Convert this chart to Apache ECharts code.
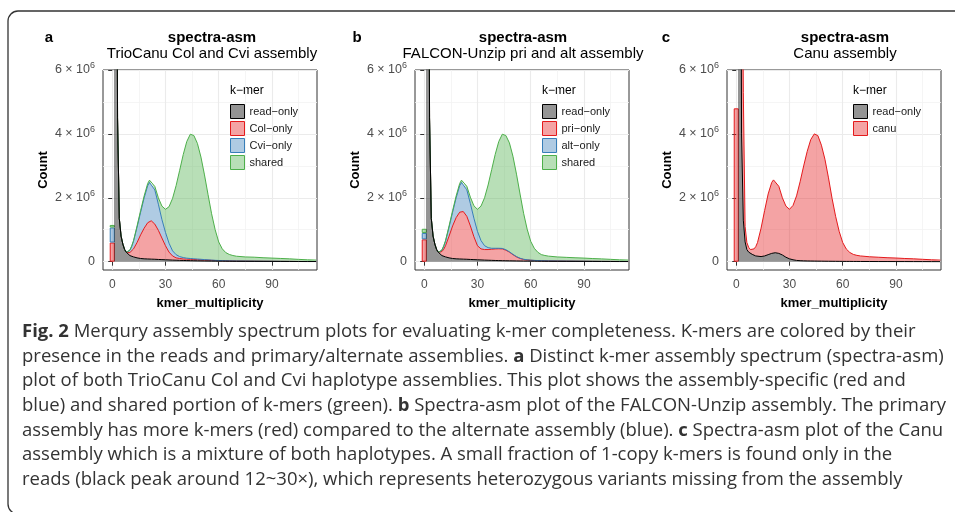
<!DOCTYPE html>
<html><head><meta charset="utf-8">
<script src="https://cdn.jsdelivr.net/npm/echarts@6/dist/echarts.min.js"></script>
<style>html,body{margin:0;padding:0;background:#fff}#c{width:955px;height:512px}</style>
</head><body><div id="c"></div>
<script>
// ---- data (counts in units of 10^6) ----
const X = [1,2,3,4,5,6,7,8,9,10,11,12,14,16,18,20,21,22,24,26,28,30,32,34,36,38,40,42,44,46,48,50,52,54,56,58,60,62,64,66,68,70,75,80,85,90,95,100,105,110,115];

const namesA = ['read−only','Col−only','Cvi−only','shared'];
const readOnlyA = [60,25,4.5,1.35,0.8,0.55,0.38,0.29,0.23,0.19,0.165,0.15,0.12,0.1,0.09,0.085,0.082,0.08,0.076,0.07,0.065,0.06,0.055,0.05,0.046,0.042,0.038,0.035,0.032,0.03,0.028,0.026,0.024,0.022,0.02,0.019,0.018,0.017,0.016,0.015,0.014,0.013,0.012,0.011,0.01,0.009,0.008,0.007,0.006,0.005,0.005];
const colOnlyA = [0,0,0,0,0,0,0,0,0.03,0.1,0.165,0.25,0.48,0.74,0.96,1.135,1.19,1.2,1.1,0.91,0.675,0.44,0.245,0.13,0.074,0.058,0.047,0.045,0.043,0.04,0.037,0.034,0.03,0.026,0.022,0.018,0.015,0.012,0.01,0.008,0.007,0.006,0.005,0.004,0.003,0.003,0.002,0.002,0.001,0.001,0.001];
const cviOnlyA = [0,0,0,0,0,0,0,0,0.02,0.07,0.15,0.24,0.48,0.71,0.95,1.16,1.21,1.22,1.07,0.82,0.58,0.42,0.28,0.16,0.1,0.06,0.045,0.03,0.025,0.02,0.018,0.015,0.012,0.01,0.008,0.006,0.005,0.004,0.003,0.003,0.002,0.002,0.002,0.001,0.001,0.001,0.001,0,0,0,0];
const sharedA = [0,0,0,0,0,0,0,0,0.01,0.01,0.02,0.02,0.04,0.05,0.06,0.07,0.07,0.07,0.11,0.2,0.42,0.72,1.14,1.64,2.16,2.7,3.22,3.65,3.89,3.86,3.62,3.2,2.65,2.04,1.45,0.96,0.58,0.37,0.255,0.2,0.17,0.15,0.13,0.125,0.11,0.1,0.09,0.08,0.066,0.053,0.044];
const zeroBarsA = [0.6,0.47,0.08];

const namesB = ['read−only','pri−only','alt−only','shared'];
const readOnlyB = [60,25,4.5,1.35,0.8,0.55,0.38,0.29,0.23,0.19,0.165,0.15,0.12,0.1,0.09,0.085,0.082,0.08,0.076,0.07,0.065,0.06,0.055,0.05,0.046,0.042,0.038,0.035,0.032,0.03,0.028,0.026,0.024,0.022,0.02,0.019,0.018,0.017,0.016,0.015,0.014,0.013,0.012,0.011,0.01,0.009,0.008,0.007,0.006,0.005,0.005];
const priOnlyB = [0,0,0,0,0,0,0,0,0.04,0.13,0.225,0.35,0.68,1.02,1.29,1.465,1.5,1.49,1.344,1.05,0.715,0.44,0.345,0.33,0.334,0.348,0.362,0.37,0.368,0.33,0.272,0.194,0.126,0.078,0.05,0.036,0.027,0.021,0.017,0.015,0.013,0.011,0.009,0.007,0.006,0.005,0.004,0.003,0.003,0.002,0.002];
const altOnlyB = [0,0,0,0,0,0,0,0,0.01,0.04,0.09,0.14,0.28,0.43,0.62,0.83,0.9,0.93,0.83,0.7,0.58,0.45,0.26,0.12,0.06,0.03,0.02,0.015,0.015,0.015,0.01,0.01,0.01,0.008,0.006,0.005,0.004,0.003,0.003,0.002,0.002,0.002,0.001,0.001,0.001,0.001,0,0,0,0,0];
const sharedB = [0,0,0,0,0,0,0,0,0.01,0.01,0.02,0.02,0.04,0.05,0.06,0.07,0.07,0.07,0.11,0.2,0.39,0.69,1.08,1.5,1.96,2.46,2.94,3.34,3.575,3.575,3.41,3.07,2.58,2.01,1.44,0.96,0.59,0.38,0.26,0.19,0.165,0.148,0.127,0.117,0.106,0.098,0.086,0.078,0.065,0.052,0.044];
const zeroBarsB = [0.7,0.2,0.13];

const namesC = ['read−only','canu'];
const readOnlyC = [60,25,4.0,1.3,0.62,0.38,0.3,0.26,0.23,0.2,0.18,0.17,0.16,0.18,0.22,0.26,0.275,0.28,0.26,0.21,0.14,0.09,0.06,0.04,0.032,0.027,0.024,0.022,0.02,0.018,0.017,0.015,0.014,0.013,0.012,0.011,0.01,0.009,0.009,0.008,0.008,0.007,0.006,0.005,0.005,0.004,0.004,0.003,0.003,0.002,0.002];
const canuC = [30,15,10,4.0,0.48,0.22,0.15,0.12,0.14,0.2,0.29,0.43,0.89,1.42,1.9,2.22,2.285,2.29,2.1,1.79,1.6,1.55,1.7,2.02,2.47,2.97,3.43,3.8,3.98,3.93,3.63,3.19,2.61,1.97,1.41,0.94,0.59,0.39,0.28,0.22,0.19,0.173,0.149,0.135,0.12,0.111,0.096,0.087,0.072,0.058,0.048];
const zeroBarsC = [4.8];

const xMajor = [0,30,60,90];
const xMinor = [15,45,75,105];
const yMajor = [0,2,4,6];
const yMinor = [1,3,5];

const captionLines = [
 '{b|Fig. 2} Merqury assembly spectrum plots for evaluating k-mer completeness. K-mers are colored by their',
 'presence in the reads and primary/alternate assemblies. {b|a} Distinct k-mer assembly spectrum (spectra-asm)',
 'plot of both TrioCanu Col and Cvi haplotype assemblies. This plot shows the assembly-specific (red and',
 'blue) and shared portion of k-mers (green). {b|b} Spectra-asm plot of the FALCON-Unzip assembly. The primary',
 'assembly has more k-mers (red) compared to the alternate assembly (blue). {b|c} Spectra-asm plot of the Canu',
 'assembly which is a mixture of both haplotypes. A small fraction of 1-copy k-mers is found only in the',
 'reads (black peak around 12~30×), which represents heterozygous variants missing from the assembly'
];

// ---- styling ----
const FONT = '"Liberation Sans", Arial, Helvetica, sans-serif';
const CAPFONT = '"Open Sans", "Noto Sans", sans-serif';
const LINE = ['#000000','#E41A1C','#377EB8','#4DAF4A'];
const FILL = ['rgba(0,0,0,0.42)','rgba(228,26,28,0.4)','rgba(55,126,184,0.4)','rgba(77,175,74,0.4)'];
const KEYFILL = ['#949494','#F4A3A4','#AFCBE3','#B8DFB7'];

const panels = [
 {left:103, letter:'a', letterX:49, titleX:212, sub:'TrioCanu Col and Cvi assembly', legendLeft:230, names:namesA, values:[readOnlyA,colOnlyA,cviOnlyA,sharedA], bars:zeroBarsA},
 {left:415, letter:'b', letterX:357, titleX:523, sub:'FALCON-Unzip pri and alt assembly', legendLeft:542, names:namesB, values:[readOnlyB,priOnlyB,altOnlyB,sharedB], bars:zeroBarsB},
 {left:727, letter:'c', letterX:666, titleX:845, sub:'Canu assembly', legendLeft:853, names:namesC, values:[readOnlyC,canuC], bars:zeroBarsC}
];

const grid=[], xAxis=[], yAxis=[], series=[], legend=[], graphic=[];
panels.forEach((p,i)=>{
  grid.push({left:p.left, top:70, width:214, height:200, show:true, borderColor:'#333', borderWidth:1, backgroundColor:'#fff'});
  xAxis.push({type:'value', gridIndex:i, min:-5.2, max:115.4,
    axisLine:{show:false},
    axisTick:{show:true, customValues:xMajor, length:4, lineStyle:{color:'#333', width:1}},
    axisLabel:{customValues:xMajor, color:'#4D4D4D', fontSize:12, fontFamily:FONT, margin:9},
    splitLine:{show:true, lineStyle:{color:'#EBEBEB', width:1.1}},
    name:'kmer_multiplicity', nameLocation:'middle', nameGap:27,
    nameTextStyle:{fontSize:13, fontWeight:'bold', color:'#000', fontFamily:FONT}});
  xAxis.push({type:'value', gridIndex:i, min:-5.2, max:115.4,
    axisLine:{show:false}, axisTick:{show:false, customValues:xMinor}, axisLabel:{show:false},
    splitLine:{show:true, lineStyle:{color:'#F2F2F2', width:0.8}}});
  yAxis.push({type:'value', gridIndex:i, min:-0.26, max:6,
    axisLine:{show:false},
    axisTick:{show:true, customValues:yMajor, length:4, lineStyle:{color:'#333', width:1}},
    axisLabel:{customValues:yMajor, margin:8,
      formatter: v => v === 0 ? '{a|0}' : '{a|' + v + ' × 10}{s|6}',
      rich:{a:{fontSize:12.5, color:'#4D4D4D', fontFamily:FONT, lineHeight:18},
            s:{fontSize:9, color:'#4D4D4D', fontFamily:FONT, lineHeight:8, verticalAlign:'top'}}},
    splitLine:{show:true, lineStyle:{color:'#EBEBEB', width:1.1}},
    name:'Count', nameLocation:'middle', nameGap:53, nameRotate:90,
    nameTextStyle:{fontSize:13, fontWeight:'bold', color:'#000', fontFamily:FONT}});
  yAxis.push({type:'value', gridIndex:i, min:-0.26, max:6,
    axisLine:{show:false}, axisTick:{show:false, customValues:yMinor}, axisLabel:{show:false},
    splitLine:{show:true, lineStyle:{color:'#F2F2F2', width:0.8}}});

  // rows are [count, multiplicity] so the stack is taken on the count dimension
  p.values.forEach((vals,k)=>{
    series.push({type:'line', name:p.names[k], xAxisIndex:2*i, yAxisIndex:2*i, stack:'s'+i,
      symbol:'none', clip:true, z: k===0 ? 4 : 2,
      encode:{x:1, y:0},
      lineStyle:{color:LINE[k], width:1}, itemStyle:{color:LINE[k]},
      areaStyle:{color:FILL[k], opacity:1},
      emphasis:{disabled:true},
      data: X.map((x,j)=>[vals[j], x])});
  });
  p.bars.forEach((v,k)=>{
    series.push({type:'bar', name:p.names[k+1], xAxisIndex:2*i, yAxisIndex:2*i, stack:'b'+i,
      barWidth:5, z:3, emphasis:{disabled:true}, encode:{x:1, y:0},
      itemStyle:{color:FILL[k+1], borderColor:LINE[k+1], borderWidth:1},
      data:[[v, 0]]});
  });
  legend.push({left:p.legendLeft, top:104, orient:'vertical', padding:0, itemWidth:14, itemHeight:14, itemGap:2,
    icon:'rect', selectedMode:false,
    textStyle:{fontSize:11, color:'#1a1a1a', fontFamily:FONT},
    data:p.names.map((n,k)=>({name:n, icon:'rect', itemStyle:{color:KEYFILL[k], borderColor:LINE[k], borderWidth:1, opacity:1}}))});

  graphic.push({type:'text', x:p.letterX, y:38, style:{text:p.letter, align:'center', verticalAlign:'middle', fontSize:15, fontWeight:'bold', fontFamily:FONT, fill:'#000'}});
  graphic.push({type:'text', x:p.titleX, y:38, style:{text:'spectra-asm', align:'center', verticalAlign:'middle', fontSize:15, fontWeight:'bold', fontFamily:FONT, fill:'#000'}});
  graphic.push({type:'text', x:p.titleX, y:53.5, style:{text:p.sub, align:'center', verticalAlign:'middle', fontSize:15, fontFamily:FONT, fill:'#000'}});
  graphic.push({type:'text', x:p.legendLeft, y:91, style:{text:'k−mer', align:'left', verticalAlign:'middle', fontSize:12, fontFamily:FONT, fill:'#000'}});
});

const capY = [331.7,356.5,381,405.7,430.5,455,479.3];
captionLines.forEach((t,i)=>{
  graphic.push({type:'text', x:22, y:capY[i], style:{text:t, align:'left', verticalAlign:'middle',
    fontSize:18.5, fontFamily:CAPFONT, fill:'#333',
    rich:{b:{fontSize:18.5, fontFamily:CAPFONT, fontWeight:'bold', fill:'#333'}}}});
});
graphic.push({type:'rect', shape:{x:8, y:11, width:1000, height:503, r:10}, style:{fill:'none', stroke:'#333', lineWidth:1.3}, silent:true});

const chart = echarts.init(document.getElementById('c'), null, {renderer:'canvas'});
chart.setOption({animation:false, backgroundColor:'#fff', grid, xAxis, yAxis, series, legend, graphic});
</script>
</body></html>
